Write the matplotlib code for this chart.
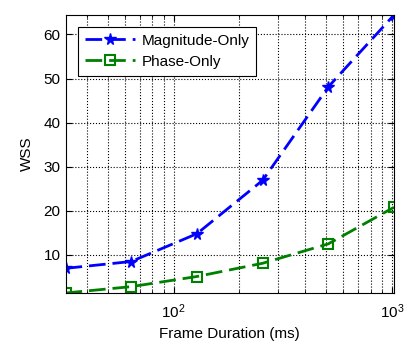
import matplotlib
matplotlib.use('Agg')
import matplotlib.pyplot as plt
from matplotlib.ticker import LogLocator, NullFormatter

plt.rcParams['font.family'] = ['Liberation Sans', 'DejaVu Sans']
plt.rcParams['mathtext.fontset'] = 'custom'
plt.rcParams['mathtext.rm'] = 'Liberation Sans'
plt.rcParams['mathtext.it'] = 'Liberation Sans'

frame_ms = [32, 64, 128, 256, 512, 1024]
magnitude_only = [6.95, 8.5, 14.8, 26.9, 48.1, 64.4]
phase_only = [1.36, 2.8, 5.1, 8.1, 12.5, 20.8]


def draw():
    fig = plt.figure(figsize=(4.07, 3.43), dpi=100)
    ax = fig.add_axes([65.5 / 407, 1 - 293 / 343, (394 - 65.5) / 407, (293 - 15) / 343])

    ax.plot(frame_ms, magnitude_only, '--', color=(0, 0, 1), lw=2,
            marker='*', ms=8.5, mfc=(0, 0, 1), mec=(0, 0, 1), dashes=(6, 2.5),
            label='Magnitude-Only')
    ax.plot(frame_ms, phase_only, '--', color=(0, 0.5, 0), lw=2,
            marker='s', ms=6.5, mfc='none', mec=(0, 0.5, 0), mew=1.5, dashes=(6, 2.5),
            label='Phase-Only')

    ax.set_xscale('log')
    ax.set_xlim(min(frame_ms), max(frame_ms))
    ax.set_ylim(min(phase_only), max(magnitude_only))
    ax.set_yticks([10, 20, 30, 40, 50, 60])
    ax.xaxis.set_major_locator(LogLocator(base=10))
    ax.xaxis.set_minor_locator(LogLocator(base=10, subs=range(2, 10)))
    ax.xaxis.set_minor_formatter(NullFormatter())

    ax.grid(True, which='both', axis='x', ls=':', color='k', lw=0.8)
    ax.grid(True, which='major', axis='y', ls=':', color='k', lw=0.8)
    ax.tick_params(which='both', direction='in', top=True, right=True, labelsize=11)
    ax.tick_params(which='major', length=4)
    ax.tick_params(which='minor', length=2)
    ax.tick_params(axis='x', pad=7)
    for s in ax.spines.values():
        s.set_linewidth(0.8)

    ax.set_xlabel('Frame Duration (ms)', fontsize=11, labelpad=4)
    ax.set_ylabel('WSS', fontsize=11, labelpad=7)

    leg = ax.legend(loc='upper left', bbox_to_anchor=(0.038, 0.957), borderaxespad=0,
                    fancybox=False, edgecolor='k', framealpha=1, fontsize=11,
                    handlelength=3.3, borderpad=0.45, labelspacing=0.45,
                    handletextpad=0.4)
    leg.get_frame().set_linewidth(0.8)

    fig.savefig('out.png', dpi=100)


def main():
    draw()


if __name__ == '__main__':
    main()
